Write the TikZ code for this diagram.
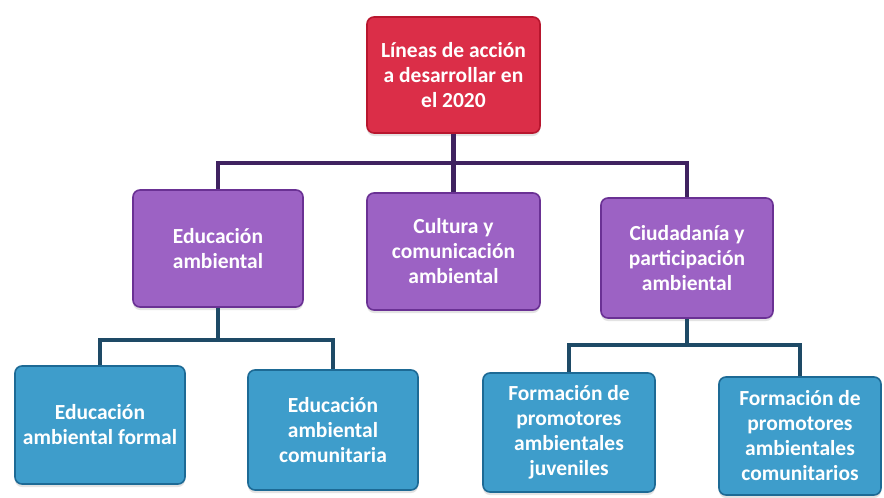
\documentclass[tikz,border=0pt]{standalone}
\usepackage{fontspec}
\setmainfont{Carlito}
\usetikzlibrary{shadows}
\definecolor{redfill}{HTML}{DB2E48}
\definecolor{redline}{HTML}{B8162E}
\definecolor{purfill}{HTML}{9C62C4}
\definecolor{purline}{HTML}{6A3194}
\definecolor{bluefill}{HTML}{3E9DCB}
\definecolor{blueline}{HTML}{1D6A95}
\definecolor{conpur}{HTML}{3F2260}
\definecolor{conblue}{HTML}{1E4A66}
\tikzset{
  box/.style={rectangle, rounded corners=7pt, line width=1.6pt, align=center,
    text=white, font=\bfseries\fontsize{21.5}{25}\selectfont, inner sep=2pt,
    drop shadow={shadow xshift=0pt, shadow yshift=-3pt, fill=black!18, opacity=0.6}},
  redbox/.style={box, fill=redfill, draw=redline},
  purbox/.style={box, fill=purfill, draw=purline},
  bluebox/.style={box, fill=bluefill, draw=blueline},
  conA/.style={draw=conpur, line width=4.5pt},
  conB/.style={draw=conblue, line width=4pt}
}
\begin{document}
\begin{tikzpicture}[x=1pt,y=-1pt]
\useasboundingbox[fill=white] (0,0) rectangle (884,498);
\node[redbox, minimum width=173pt, minimum height=116pt] (top) at (453.5,75) {Líneas de acción\\a desarrollar en\\el 2020};
\node[purbox, minimum width=170pt, minimum height=117pt] (edu) at (218,248.5) {Educación\\ambiental};
\node[purbox, minimum width=173pt, minimum height=117pt] (cult) at (453.5,251.5) {Cultura y\\comunicación\\ambiental};
\node[purbox, minimum width=172pt, minimum height=120pt] (ciud) at (687,258) {Ciudadanía y\\participación\\ambiental};
\node[bluebox, minimum width=170pt, minimum height=118pt] (b1) at (100,425) {Educación\\ambiental formal};
\node[bluebox, minimum width=170pt, minimum height=120pt] (b2) at (333,430) {Educación\\ambiental\\comunitaria};
\node[bluebox, minimum width=172pt, minimum height=119pt] (b3) at (569,432.5) {Formación de\\promotores\\ambientales\\juveniles};
\node[bluebox, minimum width=162pt, minimum height=118pt] (b4) at (800,436) {Formación de\\promotores\\ambientales\\comunitarios};
\coordinate (j1) at (453.5,163);
\coordinate (j2) at (218,340);
\coordinate (j3) at (687,345);
\draw[conA] (top.south) -- (cult.north);
\draw[conA] (edu.north) |- (j1) -| (ciud.north);
\draw[conB] (edu.south) -- (j2);
\draw[conB] (b1.north) |- (j2) -| (b2.north);
\draw[conB] (ciud.south) -- (j3);
\draw[conB] (b3.north) |- (j3) -| (b4.north);
\end{tikzpicture}
\end{document}
